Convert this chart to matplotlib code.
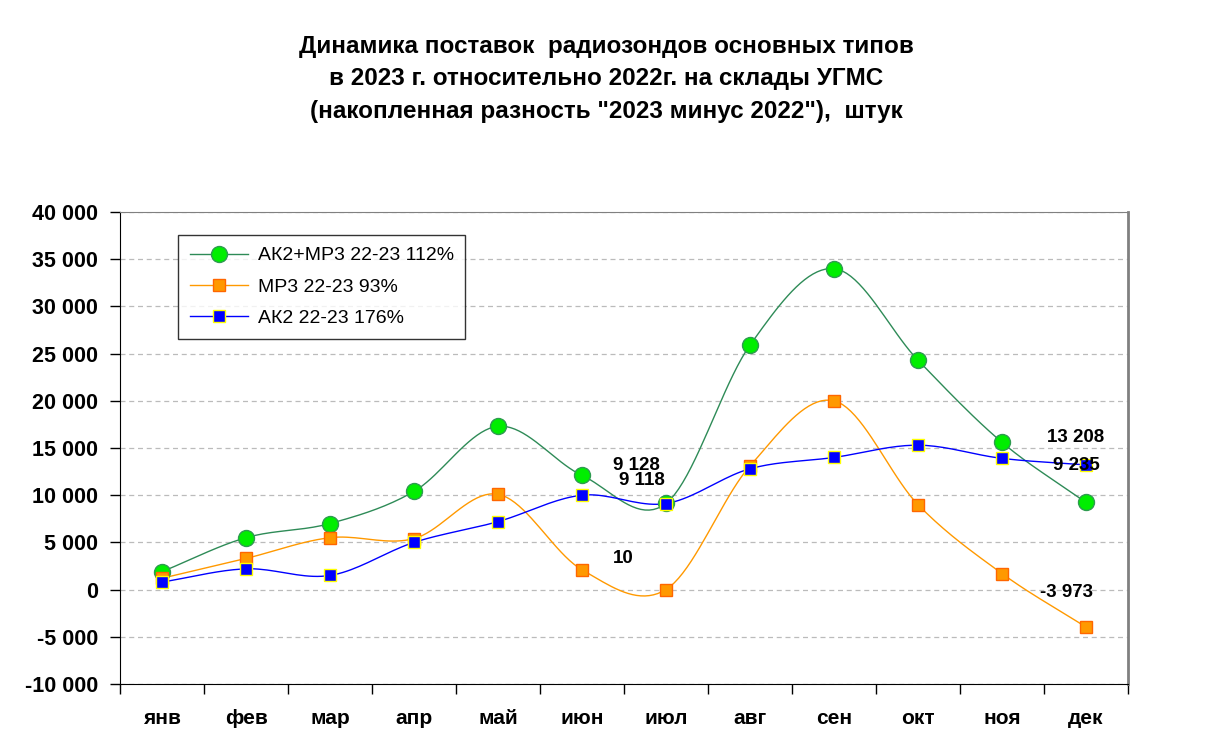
import matplotlib
matplotlib.use("Agg")
import matplotlib.pyplot as plt
import numpy as np
from matplotlib.ticker import FuncFormatter, MultipleLocator

plt.rcParams["font.family"] = ["Liberation Sans", "DejaVu Sans"]

months = ["янв", "фев", "мар", "апр", "май", "июн", "июл", "авг", "сен", "окт", "ноя", "дек"]
total = [1900, 5500, 7000, 10400, 17300, 12100, 9128, 25900, 34000, 24300, 15600, 9235]
mr3 = [1200, 3300, 5500, 5400, 10100, 2100, 10, 13100, 20000, 9000, 1700, -3973]
ak2 = [800, 2200, 1500, 5000, 7200, 10000, 9118, 12800, 14000, 15300, 13900, 13208]

legend_labels = ["АК2+МР3 22-23 112%", "МР3 22-23 93%", "АК2 22-23 176%"]
title = ("Динамика поставок  радиозондов основных типов\n"
         "в 2023 г. относительно 2022г. на склады УГМС\n"
         "(накопленная разность \"2023 минус 2022\"),  штук")


def smooth(x, y, n=20):
    """Catmull-Rom spline through the points, roughly like Excel's smoothed lines."""
    x = np.asarray(x, float)
    y = np.asarray(y, float)
    px = np.concatenate([[2 * x[0] - x[1]], x, [2 * x[-1] - x[-2]]])
    py = np.concatenate([[2 * y[0] - y[1]], y, [2 * y[-1] - y[-2]]])
    xs, ys = [], []
    t = np.linspace(0, 1, n, endpoint=False)
    for i in range(1, len(px) - 2):
        for p, out in ((px, xs), (py, ys)):
            p0, p1, p2, p3 = p[i - 1], p[i], p[i + 1], p[i + 2]
            out.extend(0.5 * ((2 * p1) + (-p0 + p2) * t
                              + (2 * p0 - 5 * p1 + 4 * p2 - p3) * t ** 2
                              + (-p0 + 3 * p1 - 3 * p2 + p3) * t ** 3))
    xs.append(x[-1])
    ys.append(y[-1])
    return np.array(xs), np.array(ys)


fig = plt.figure(figsize=(12.13, 7.55), dpi=100)
ax = fig.add_axes([120 / 1213, 1 - 684 / 755, 1008 / 1213, 472 / 755])

x = np.arange(len(months)) + 0.5

styles = [
    (total, dict(color="#2E8B57", lw=1), dict(marker="o", ms=11.5, mfc="#00EE00", mec="#2E9B50", mew=1)),
    (mr3, dict(color="#FF9900", lw=1), dict(marker="s", ms=8, mfc="#FF9900", mec="#FF6600", mew=1)),
    (ak2, dict(color="#0000FF", lw=1), dict(marker="s", ms=8, mfc="#0000FF", mec="#FFFF00", mew=1)),
]
handles = []
for vals, lstyle, mstyle in styles:
    sx, sy = smooth(x, vals)
    ax.plot(sx, sy, zorder=3, **lstyle)
    ax.plot(x, vals, ls="none", zorder=4, **mstyle)
    h, = ax.plot([], [], **lstyle, **mstyle)
    handles.append(h)

fmt = lambda v: f"{v:,.0f}".replace(",", " ")
labels = [
    (6, total[6], (-30, 38)),
    (6, ak2[6], (-24, 23)),
    (6, mr3[6], (-43, 31)),
    (11, ak2[11], (-10, 27)),
    (11, total[11], (-10, 37)),
    (11, mr3[11], (-19, 35)),
]
for i, v, (dx, dy) in labels:
    ax.annotate(fmt(v), (x[i], v), xytext=(dx, dy), textcoords="offset pixels",
                ha="center", va="center", fontsize=13.5, fontweight="bold", zorder=5)

ax.set_xlim(0, 12)
ax.set_ylim(-10000, 40000)
ax.yaxis.set_major_locator(MultipleLocator(5000))
ax.yaxis.set_major_formatter(FuncFormatter(lambda v, p: fmt(v)))
ax.set_xticks(np.arange(0, 13))
ax.set_xticklabels([])
ax.set_xticks(x, minor=True)
ax.set_xticklabels(months, minor=True)
ax.tick_params(axis="x", which="minor", length=0, pad=18, labelsize=15)
ax.tick_params(axis="x", which="major", length=7, width=1, direction="out")
ax.tick_params(axis="y", length=7, width=1, direction="out", pad=9, labelsize=15.5)
for lab in ax.get_xticklabels(minor=True) + ax.get_yticklabels():
    lab.set_fontweight("bold")

ax.grid(axis="y", color="#BBBBBB", ls=(0, (4, 3)), lw=0.9)
ax.set_axisbelow(True)
ax.spines["top"].set_color("#808080")
ax.spines["right"].set_color("#808080")
ax.spines["right"].set_linewidth(2)

leg = ax.legend(handles, legend_labels, loc="upper left", bbox_to_anchor=(0.0575, 0.951),
                borderaxespad=0, fontsize=14, frameon=True, fancybox=False, edgecolor="black",
                handlelength=3.0, handletextpad=0.5, borderpad=0.6, labelspacing=0.7)
leg.get_frame().set_linewidth(1)

fig.text(0.5, 1 - 79 / 755, title, ha="center", va="center", fontsize=17.5,
         fontweight="bold", linespacing=1.55,
         family=["Liberation Sans Narrow", "Liberation Sans", "DejaVu Sans"])

fig.savefig("out.png", dpi=100)
